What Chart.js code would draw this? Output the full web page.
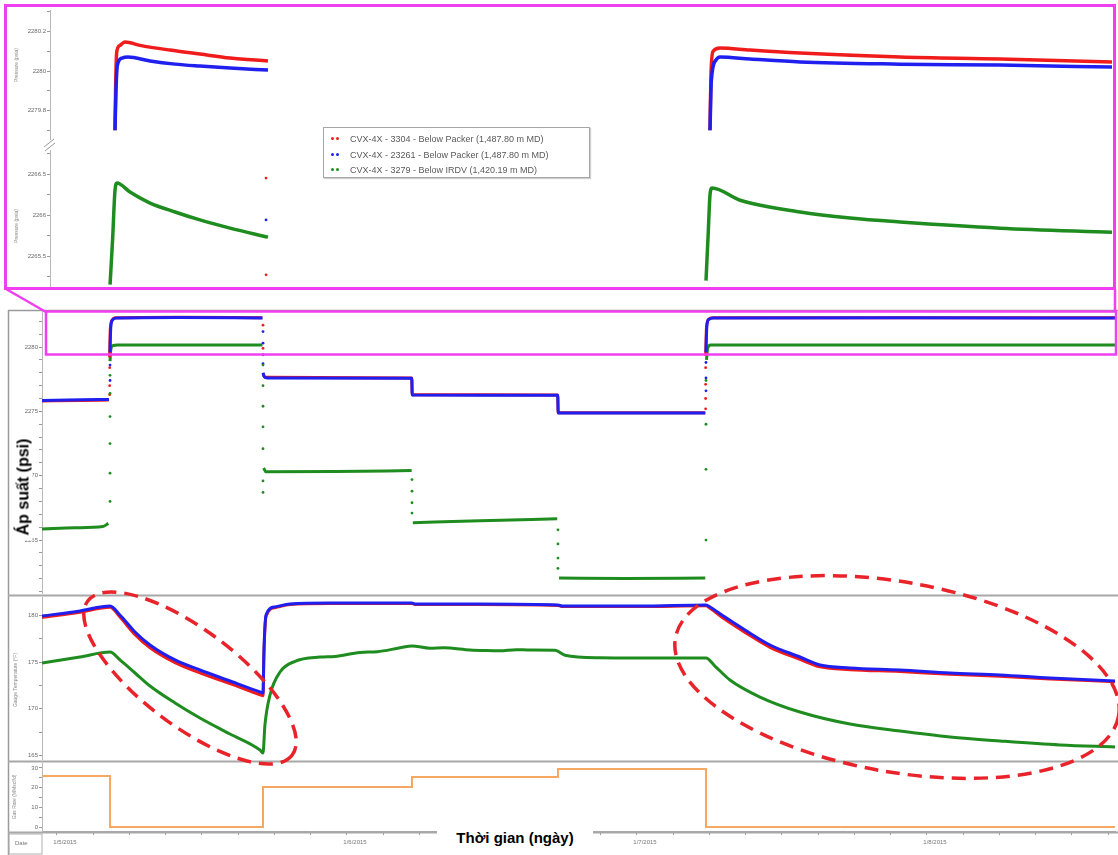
<!DOCTYPE html>
<html><head><meta charset="utf-8">
<script src="https://cdn.jsdelivr.net/npm/chart.js@4.4.1/dist/chart.umd.min.js"></script>
<style>
html,body{margin:0;padding:0;background:#fff;width:1118px;height:855px;overflow:hidden;font-family:'Liberation Sans',Arial,sans-serif;}
canvas{position:absolute;z-index:1;}
#inset{position:absolute;left:4px;top:4px;width:1106px;height:280px;border:3px solid #ef3ff0;z-index:0;}
svg{position:absolute;left:0;top:0;z-index:2;pointer-events:none;}
.txt{position:absolute;z-index:3;white-space:nowrap;}
.rot{transform:translate(-50%,-50%) rotate(-90deg);transform-origin:center;}
#legend{position:absolute;left:323px;top:127px;width:265px;height:49px;border:1px solid #a6a6a6;background:#fff;z-index:3;box-shadow:1px 1px 1px #d0d0d0;}
#legend .row{position:absolute;left:0;height:14px;font-size:9px;line-height:14px;color:#5a5a5a;}
#legend .dot{position:absolute;top:5px;width:3px;height:3px;border-radius:50%;}
</style></head><body>
<div id="inset"></div>
<canvas id="cIU" width="1104" height="130" style="left:8px;top:10px"></canvas>
<canvas id="cIL" width="1104" height="137" style="left:8px;top:150px"></canvas>
<canvas id="cP" width="1110" height="283" style="left:8px;top:311px"></canvas>
<canvas id="cT" width="1110" height="163" style="left:8px;top:597px"></canvas>
<canvas id="cO" width="1110" height="92" style="left:8px;top:763px"></canvas>

<svg width="1118" height="855" viewBox="0 0 1118 855">
  <line x1="8.5" y1="310" x2="8.5" y2="855" stroke="#9a9a9a" stroke-width="1.5"/>
  <line x1="8" y1="310.5" x2="1118" y2="310.5" stroke="#9a9a9a" stroke-width="1.5"/>
  <line x1="8" y1="595.5" x2="1118" y2="595.5" stroke="#a8a8a8" stroke-width="2"/>
  <line x1="8" y1="761.5" x2="1118" y2="761.5" stroke="#a8a8a8" stroke-width="2"/>
  <line x1="8" y1="832.5" x2="1118" y2="832.5" stroke="#a8a8a8" stroke-width="2"/>
  <rect x="9" y="834" width="33" height="20" fill="none" stroke="#b0b0b0" stroke-width="1"/>
  <line x1="6" y1="289" x2="46" y2="312" stroke="#ef3ff0" stroke-width="2.5"/>
  <line x1="1115" y1="289" x2="1115" y2="312" stroke="#ef3ff0" stroke-width="2.5"/>
  <rect x="46" y="311.5" width="1070" height="43" fill="none" stroke="#ef3ff0" stroke-width="2.5"/>
  <line x1="44" y1="147" x2="54" y2="139" stroke="#999" stroke-width="1"/>
  <line x1="45" y1="151" x2="55" y2="143" stroke="#999" stroke-width="1"/>
  <ellipse cx="190" cy="678" rx="128" ry="48" transform="rotate(37 190 678)" fill="none" stroke="#e8232a" stroke-width="3.5" stroke-dasharray="14 8"/>
  <ellipse cx="897" cy="677" rx="225" ry="95" transform="rotate(10 897 677)" fill="none" stroke="#e8232a" stroke-width="3.5" stroke-dasharray="14 8"/>
</svg>

<div id="legend"></div>

<div class="txt rot" style="left:16px;top:65px;font-size:5px;color:#8a8a8a;">Pressure (psia)</div>
<div class="txt rot" style="left:16px;top:226px;font-size:5px;color:#8a8a8a;">Pressure (psia)</div>
<div class="txt rot" style="left:15px;top:680px;font-size:5px;color:#8a8a8a;">Gauge Temperature (°F)</div>
<div class="txt rot" style="left:14px;top:797px;font-size:5px;color:#8a8a8a;">Gas Rate (MMscf/d)</div>
<div class="txt" style="left:15px;top:840px;font-size:6px;color:#777;">Date</div>
<div class="txt rot" style="left:23px;top:487px;font-size:16px;font-weight:bold;color:#000;background:#fff;padding:0 5px;line-height:19px;">Áp suất (psi)</div>
<div class="txt" style="left:437px;top:826px;width:156px;text-align:center;font-size:15px;font-weight:bold;color:#000;background:#fff;line-height:24px;">Thời gian (ngày)</div>

<script>
// ---------- time axis (hours since 00:00 on 1/5/2015) ----------
const X_MIN = -1.24, X_MAX = 87.56;      // main panels
const XI_MIN = -0.58, XI_MAX = 87.31;    // zoomed inset
const X_TICKS = [0,3,6,9,12,15,18,21,24,27,30,33,36,39,42,45,48,51,54,57,60,63,66,69,72,75,78,81,84,87];
const DATE_TICKS = [0,24,48,72];
const DATE_LABELS = ['1/5/2015','1/6/2015','1/7/2015','1/8/2015'];

// ---------- legend ----------
const LEGEND_LABELS = [
  'CVX-4X - 3304 - Below Packer (1,487.80 m MD)',
  'CVX-4X - 23261 - Below Packer (1,487.80 m MD)',
  'CVX-4X - 3279 - Below IRDV (1,420.19 m MD)'
];
const COLORS = ['#f01c1c', '#1f1ff0', '#1f8c1f'];
const ORANGE = '#f6a862';

// ---------- inset (zoomed pressure) ----------
const IU_TICKS = [2279.8, 2280.0, 2280.2];
const IU_LABELS = ['2279.8', '2280', '2280.2'];
const IU_MINOR = [2279.7, 2279.9, 2280.1, 2280.3];
const IL_TICKS = [2265.5, 2266.0, 2266.5];
const IL_LABELS = ['2265.5', '2266', '2266.5'];
const IL_MINOR = [2265.25, 2265.75, 2266.25, 2266.75];

const IU_RED = [[4.80,2279.70],[4.86,2279.95],[4.95,2280.10],[5.21,2280.13],[5.63,2280.147],[6.87,2280.13],[9.35,2280.106],[11.83,2280.086],[14.32,2280.066],[17.46,2280.051],[17.5,null],
  [54.04,2279.70],[54.12,2279.98],[54.30,2280.10],[54.87,2280.117],[57.35,2280.106],[61.49,2280.091],[69.77,2280.071],[78.04,2280.061],[87.31,2280.046]];
const IU_BLUE = [[4.80,2279.70],[4.88,2279.90],[5.00,2280.03],[5.38,2280.066],[5.88,2280.071],[7.70,2280.051],[9.77,2280.035],[11.83,2280.025],[14.32,2280.015],[17.46,2280.005],[17.5,null],
  [54.04,2279.70],[54.15,2279.95],[54.54,2280.056],[54.87,2280.071],[57.35,2280.061],[61.49,2280.046],[69.77,2280.035],[78.04,2280.030],[87.31,2280.020]];
const IL_GREEN = [[4.39,2265.15],[4.60,2265.70],[4.80,2266.30],[4.97,2266.39],[6.04,2266.28],[7.70,2266.146],[9.77,2266.037],[11.83,2265.94],[14.32,2265.84],[17.46,2265.73],[17.5,null],
  [53.71,2265.20],[53.90,2265.80],[54.04,2266.244],[54.21,2266.33],[56.53,2266.18],[61.49,2266.037],[65.63,2265.963],[69.77,2265.915],[78.04,2265.84],[87.31,2265.79]];
const IL_RED_DOTS = [[17.3,2266.45],[17.3,2265.27]];
const IL_BLUE_DOTS = [[17.3,2265.94]];

// ---------- main pressure panel ----------
const P_MIN = 2260.81, P_MAX = 2282.80;
const P_TICKS = [2265, 2270, 2275, 2280];
const P_LABELS = ['2265', '2270', '2275', '2280'];
const P_MINOR = [2261,2262,2263,2264,2266,2267,2268,2269,2271,2272,2273,2274,2276,2277,2278,2279,2281,2282];

const P_BLUE = [[-1.24,2275.85],[2.0,2275.90],[4.30,2275.92],[4.34,null],[4.39,2279.6],[4.45,2281.5],[4.60,2282.1],[4.90,2282.25],[10,2282.30],[17.0,2282.25],[17.02,null],
  [17.05,2278.0],[17.15,2277.7],[17.4,2277.6],[29.36,2277.58],[29.40,2276.27],[41.44,2276.25],[41.48,2274.87],[53.66,2274.87],[53.68,null],
  [53.71,2279.6],[53.78,2281.6],[53.95,2282.15],[54.3,2282.25],[70,2282.28],[87.56,2282.25]];
const P_RED = [[-1.24,2275.80],[2.0,2275.85],[4.28,2275.88],[4.31,null],[4.35,2279.2],[4.41,2281.4],[4.56,2282.1],[4.90,2282.28],[10,2282.32],[17.0,2282.28],[17.02,null],
  [17.06,2277.9],[17.2,2277.65],[29.36,2277.60],[29.40,2276.30],[41.44,2276.28],[41.48,2274.90],[53.64,2274.90],[53.66,null],
  [53.68,2279.3],[53.75,2281.5],[53.92,2282.15],[54.3,2282.28],[87.56,2282.28]];
const P_GREEN = [[-1.24,2265.86],[1.5,2265.95],[3.8,2266.05],[4.25,2266.30],[4.32,null],[4.39,2278.9],[4.45,2279.8],[4.65,2280.12],[5.0,2280.16],[17.0,2280.16],[17.03,null],
  [17.1,2270.6],[17.3,2270.3],[23,2270.33],[29.35,2270.40],[29.4,null],[29.45,2266.35],[35,2266.50],[41.4,2266.66],[41.45,null],
  [41.55,2262.05],[47,2262.02],[53.65,2262.05],[53.7,null],[53.75,2279.0],[53.85,2279.9],[54.1,2280.16],[87.56,2280.16]];
const P_BLUE_DOTS = [[4.39,2278.6],[4.39,2277.4],[17.05,2281.2],[17.05,2280.3],[17.05,2279.4],[17.05,2278.7],[53.71,2278.8],[53.71,2277.6],[53.71,2276.6]];
const P_RED_DOTS = [[4.36,2278.4],[4.36,2277.0],[4.36,2276.3],[17.05,2281.7],[17.05,2279.9],[53.68,2278.4],[53.68,2277.1],[53.68,2276.0],[53.68,2275.2]];
const P_GREEN_DOTS = [[4.39,2277.8],[4.39,2276.4],[4.39,2274.6],[4.39,2272.5],[4.39,2270.2],[4.39,2268.0],
  [17.05,2278.6],[17.05,2277.0],[17.05,2275.4],[17.05,2273.8],[17.05,2272.1],[17.05,2269.6],[17.05,2268.7],
  [29.38,2269.7],[29.38,2268.8],[29.38,2267.9],[29.38,2267.1],
  [41.46,2265.8],[41.46,2264.7],[41.46,2263.6],[41.46,2262.8],
  [53.71,2265.0],[53.71,2270.5],[53.71,2274.0],[53.71,2277.4]];

// ---------- temperature panel ----------
const T_MIN = 164.5, T_MAX = 182.0;
const T_TICKS = [165, 170, 175, 180];
const T_LABELS = ['165', '170', '175', '180'];
const T_MINOR = [167.5, 172.5, 177.5];
const T_BLUE = [[-1.24,179.96],[1.90,180.50],[4.39,181.03],[5.21,180.07],[6.46,178.24],[7.70,176.85],[9.77,175.24],[11.83,174.16],[14.32,172.98],[16.80,171.80],[17.05,171.69],
  [17.13,176.31],[17.30,180.07],[18.04,180.93],[19.28,181.25],[22.59,181.36],[29.38,181.36],[29.63,181.25],[35.0,181.25],[41.46,181.14],[41.79,181.03],[48.25,181.03],
  [53.71,181.14],[54.04,180.93],[55.28,179.85],[56.94,178.46],[59.01,176.85],[61.49,175.56],[63.15,174.70],[65.63,174.38],[69.77,174.16],[73.91,173.84],[78.04,173.63],[82.18,173.30],[87.56,172.98]];
const T_RED = [[-1.24,179.80],[1.90,180.35],[4.39,180.90],[5.21,179.85],[6.46,177.95],[7.70,176.55],[9.77,174.95],[11.83,173.85],[14.32,172.70],[16.80,171.50],[17.05,171.40],
  [17.13,176.00],[17.30,179.90],[18.04,180.85],[19.28,181.20],[22.59,181.30],[29.38,181.30],[29.63,181.20],[35.0,181.20],[41.46,181.10],[41.79,180.98],[48.25,180.98],
  [53.71,181.05],[54.04,180.80],[55.28,179.60],[56.94,178.20],[59.01,176.60],[61.49,175.30],[63.15,174.50],[65.63,174.20],[69.77,174.00],[73.91,173.70],[78.04,173.50],[82.18,173.20],[87.56,172.90]];
const T_GREEN = [[-1.24,174.91],[1.90,175.56],[4.39,176.09],[5.21,175.24],[6.46,173.84],[7.70,172.44],[9.77,170.62],[11.83,169.01],[14.32,167.29],[16.80,165.57],[17.05,165.25],
  [17.21,168.26],[17.63,171.48],[18.46,173.95],[19.70,175.10],[21.77,175.55],[23.0,175.62],[25.08,176.05],[26.5,176.12],[28.39,176.55],[29.38,176.75],
  [30.87,176.50],[32.0,176.55],[34.18,176.32],[35.5,176.25],[36.66,176.22],[38.0,176.35],[39.15,176.30],[41.22,176.28],[42.04,175.75],[44.94,175.48],[49.08,175.45],
  [53.71,175.45],[54.45,174.59],[55.69,173.09],[58.18,171.26],[61.49,169.65],[65.63,168.36],[69.77,167.61],[73.91,166.97],[78.04,166.54],[83.0,166.11],[87.56,165.90]];

// ---------- rate panel ----------
const R_MIN = -2.03, R_MAX = 32.54;
const R_TICKS = [0, 10, 20, 30];
const R_LABELS = ['0', '10', '20', '30'];
const R_MINOR = [5, 15, 25];
const R_TIME = [-1.24, 4.39, 17.05, 29.38, 41.46, 53.71, 87.56];
const R_VALUE = [25.9, 0, 20.3, 25.4, 29.5, 0, 0];

// ---------- helpers ----------
const FONT = "'Liberation Sans', Arial, sans-serif";
const pts = arr => arr.map(p => ({x: p[0], y: p[1]}));

function yAx(min, max, major, labels, minor, width, dashed) {
  const all = major.concat(minor).sort((a, b) => a - b);
  return {
    type: 'linear', position: 'left', min: min, max: max,
    afterBuildTicks: s => { s.ticks = all.map(v => ({value: v})); },
    afterFit: s => { s.width = width; s.paddingTop = 0; s.paddingBottom = 0; },
    grid: {drawOnChartArea: false, drawTicks: true, tickLength: 3, color: '#9a9a9a', lineWidth: 1},
    border: {display: true, color: '#b8b8b8', width: 1, dash: dashed ? [2, 2] : []},
    ticks: {autoSkip: false, padding: 1, color: '#6a6a6a', font: {family: FONT, size: 6},
      callback: v => { const i = major.findIndex(m => Math.abs(m - v) < 1e-6); return i >= 0 ? labels[i] : ''; }}
  };
}
function hiddenX(min, max) { return {type: 'linear', min: min, max: max, display: false}; }
function lineDs(data, color, width) {
  return {data: pts(data), borderColor: color, backgroundColor: color, borderWidth: width, pointRadius: 0,
    fill: false, cubicInterpolationMode: 'monotone', spanGaps: false};
}
function dotDs(data, color) {
  return {data: pts(data), showLine: false, pointRadius: 1.4, pointBorderWidth: 0, backgroundColor: color, borderColor: color};
}
function mk(id, datasets, x, y, padRight) {
  return new Chart(document.getElementById(id), {
    type: 'line',
    data: {datasets: datasets},
    options: {
      responsive: false, animation: false, devicePixelRatio: 1,
      layout: {autoPadding: false, padding: {left: 0, right: padRight, top: 0, bottom: 0}},
      plugins: {legend: {display: false}, tooltip: {enabled: false}},
      scales: {x: x, y: y}
    }
  });
}

// ---------- legend (HTML) ----------
const lg = document.getElementById('legend');
LEGEND_LABELS.forEach((t, i) => {
  const top = 4 + i * 15.5;
  const r = document.createElement('div');
  r.className = 'row'; r.style.top = top + 'px'; r.style.left = '26px'; r.textContent = t;
  lg.appendChild(r);
  [7, 12].forEach(dx => {
    const d = document.createElement('div');
    d.className = 'dot'; d.style.left = dx + 'px'; d.style.top = (top + 5) + 'px'; d.style.background = COLORS[i];
    lg.appendChild(d);
  });
});

// ---------- charts ----------
mk('cIU', [lineDs(IU_BLUE, COLORS[1], 3.5), lineDs(IU_RED, COLORS[0], 3.5)],
   hiddenX(XI_MIN, XI_MAX), yAx(2279.651, 2280.309, IU_TICKS, IU_LABELS, IU_MINOR, 42, false), 0);
mk('cIL', [dotDs(IL_RED_DOTS, COLORS[0]), dotDs(IL_BLUE_DOTS, COLORS[1]), lineDs(IL_GREEN, COLORS[2], 3.5)],
   hiddenX(XI_MIN, XI_MAX), yAx(2265.122, 2266.793, IL_TICKS, IL_LABELS, IL_MINOR, 42, false), 0);
mk('cP', [dotDs(P_GREEN_DOTS, COLORS[2]), dotDs(P_BLUE_DOTS, COLORS[1]), dotDs(P_RED_DOTS, COLORS[0]),
          lineDs(P_BLUE, COLORS[1], 3), lineDs(P_RED, COLORS[0], 3), lineDs(P_GREEN, COLORS[2], 3)],
   hiddenX(X_MIN, X_MAX), yAx(P_MIN, P_MAX, P_TICKS, P_LABELS, P_MINOR, 34, true), 3);
mk('cT', [lineDs(T_BLUE, COLORS[1], 3), lineDs(T_RED, COLORS[0], 3), lineDs(T_GREEN, COLORS[2], 3)],
   hiddenX(X_MIN, X_MAX), yAx(T_MIN, T_MAX, T_TICKS, T_LABELS, T_MINOR, 34, true), 3);

const rateDs = {data: R_TIME.map((t, i) => ({x: t, y: R_VALUE[i]})), borderColor: ORANGE, borderWidth: 2,
  pointRadius: 0, fill: false, stepped: true};
const xBottom = {
  type: 'linear', position: 'bottom', min: X_MIN, max: X_MAX,
  afterBuildTicks: s => { s.ticks = X_TICKS.map(v => ({value: v})); },
  afterFit: s => { s.height = 24; s.paddingLeft = 0; s.paddingRight = 0; },
  grid: {drawOnChartArea: false, drawTicks: true, tickLength: 4, color: '#9a9a9a'},
  border: {display: true, color: '#a8a8a8'},
  ticks: {autoSkip: false, maxRotation: 0, minRotation: 0, padding: 4, labelOffset: 8, color: '#777', font: {family: FONT, size: 6},
    callback: v => { const i = DATE_TICKS.indexOf(v); return i >= 0 ? DATE_LABELS[i] : ''; }}
};
mk('cO', [rateDs], xBottom, yAx(R_MIN, R_MAX, R_TICKS, R_LABELS, R_MINOR, 34, true), 3);
</script>
</body></html>
